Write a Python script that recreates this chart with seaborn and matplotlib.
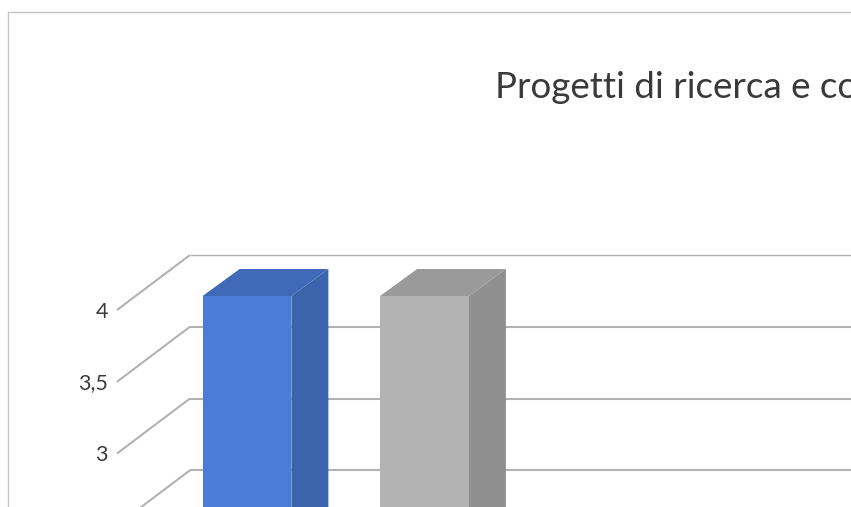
import matplotlib
matplotlib.use("Agg")
import matplotlib.pyplot as plt
import pandas as pd
import seaborn as sns
from matplotlib.patches import Polygon

# Data
categories = ["Serie A", "Serie B"]
values = [4, 4]
grid_values = [2.5, 3, 3.5, 4]
tick_values = [3, 3.5, 4]
tick_labels = ["3", "3,5", "4"]
title_text = "Progetti di ricerca e co"

# Styles
front_colors = ["#4a7dd8", "#b3b3b3"]
side_colors = ["#3c64ac", "#8f8f8f"]
top_colors = ["#4069b8", "#9a9a9a"]
grid_color = "#b2b2b2"
text_color = "#3a3a3a"

W, H = 851, 507
PX_X = 177.5   # pixels per category step
PX_Y = 143.5   # pixels per unit of value
X0 = 247.0     # pixel of the first bar centre
Y4 = 296.0     # pixel of value 4 on the bars' front plane

sns.set_theme(style="white")
plt.rcParams["font.family"] = ["Lato", "DejaVu Sans"]

fig = plt.figure(figsize=(W / 100, H / 100), dpi=100, facecolor="white")
ax = fig.add_axes([0, 0, 1, 1])

df = pd.DataFrame({"cat": categories, "val": values})
sns.barplot(data=df, x="cat", y="val", hue="cat", hue_order=categories,
            palette=front_colors, saturation=1, width=0.5, legend=False,
            ax=ax, zorder=3, linewidth=0)

ax.set_xlim(-X0 / PX_X, (W - X0) / PX_X)
ax.set_ylim(4 - (H - Y4) / PX_Y, 4 + Y4 / PX_Y)
ax.set_xticks([])
ax.set_yticks([])
ax.set_xlabel("")
ax.set_ylabel("")
ax.patch.set_alpha(0)
sns.despine(ax=ax, left=True, bottom=True)


def dx(px):
    return px / PX_X


def dy(px):
    return px / PX_Y


def xdata(px):
    return (px - X0) / PX_X


# Depth of the bars
bar_dx, bar_dy = dx(37), dy(27)
bars = list(ax.patches)
for bar, side, top in zip(bars, side_colors, top_colors):
    x0, w, h = bar.get_x(), bar.get_width(), bar.get_height()
    ax.add_patch(Polygon([(x0 + w, 0), (x0 + w, h), (x0 + w + bar_dx, h + bar_dy),
                          (x0 + w + bar_dx, 0)], closed=True, fc=side, ec="none", zorder=3))
    ax.add_patch(Polygon([(x0, h), (x0 + bar_dx, h + bar_dy), (x0 + w + bar_dx, h + bar_dy),
                          (x0 + w, h)], closed=True, fc=top, ec="none", zorder=3))

# Gridlines: diagonal from the front plane, then along the back wall
front_shift = dy(-14)
back_shift = dy(41)
for v in grid_values:
    is_top = v == max(grid_values)
    ax.plot([xdata(117), xdata(190)], [v + front_shift, v + back_shift],
            color=grid_color, lw=1.5, zorder=1, solid_capstyle="butt")
    ax.plot([xdata(190), xdata(W + 5)], [v + back_shift, v + back_shift],
            color=grid_color, lw=1.0 if is_top else 1.5, zorder=1, solid_capstyle="butt")

# Value labels
for v, lab in zip(tick_values, tick_labels):
    ax.text(xdata(108), v + front_shift - dy(1.5), lab, ha="right", va="center",
            fontsize=15.5, color=text_color, zorder=4)

# Title, running off the right edge
fig.text(495 / W, 1 - 98 / H, title_text, ha="left", va="baseline",
         fontsize=26.5, color=text_color)

# Chart frame, cut by the picture edges
ax.plot([8 / W, 8 / W, 1.01], [-0.01, 1 - 12 / H, 1 - 12 / H], transform=ax.transAxes,
        color="#c3c6c8", lw=1.0, zorder=0, clip_on=False)

fig.savefig("out.png", dpi=100, facecolor="white")
